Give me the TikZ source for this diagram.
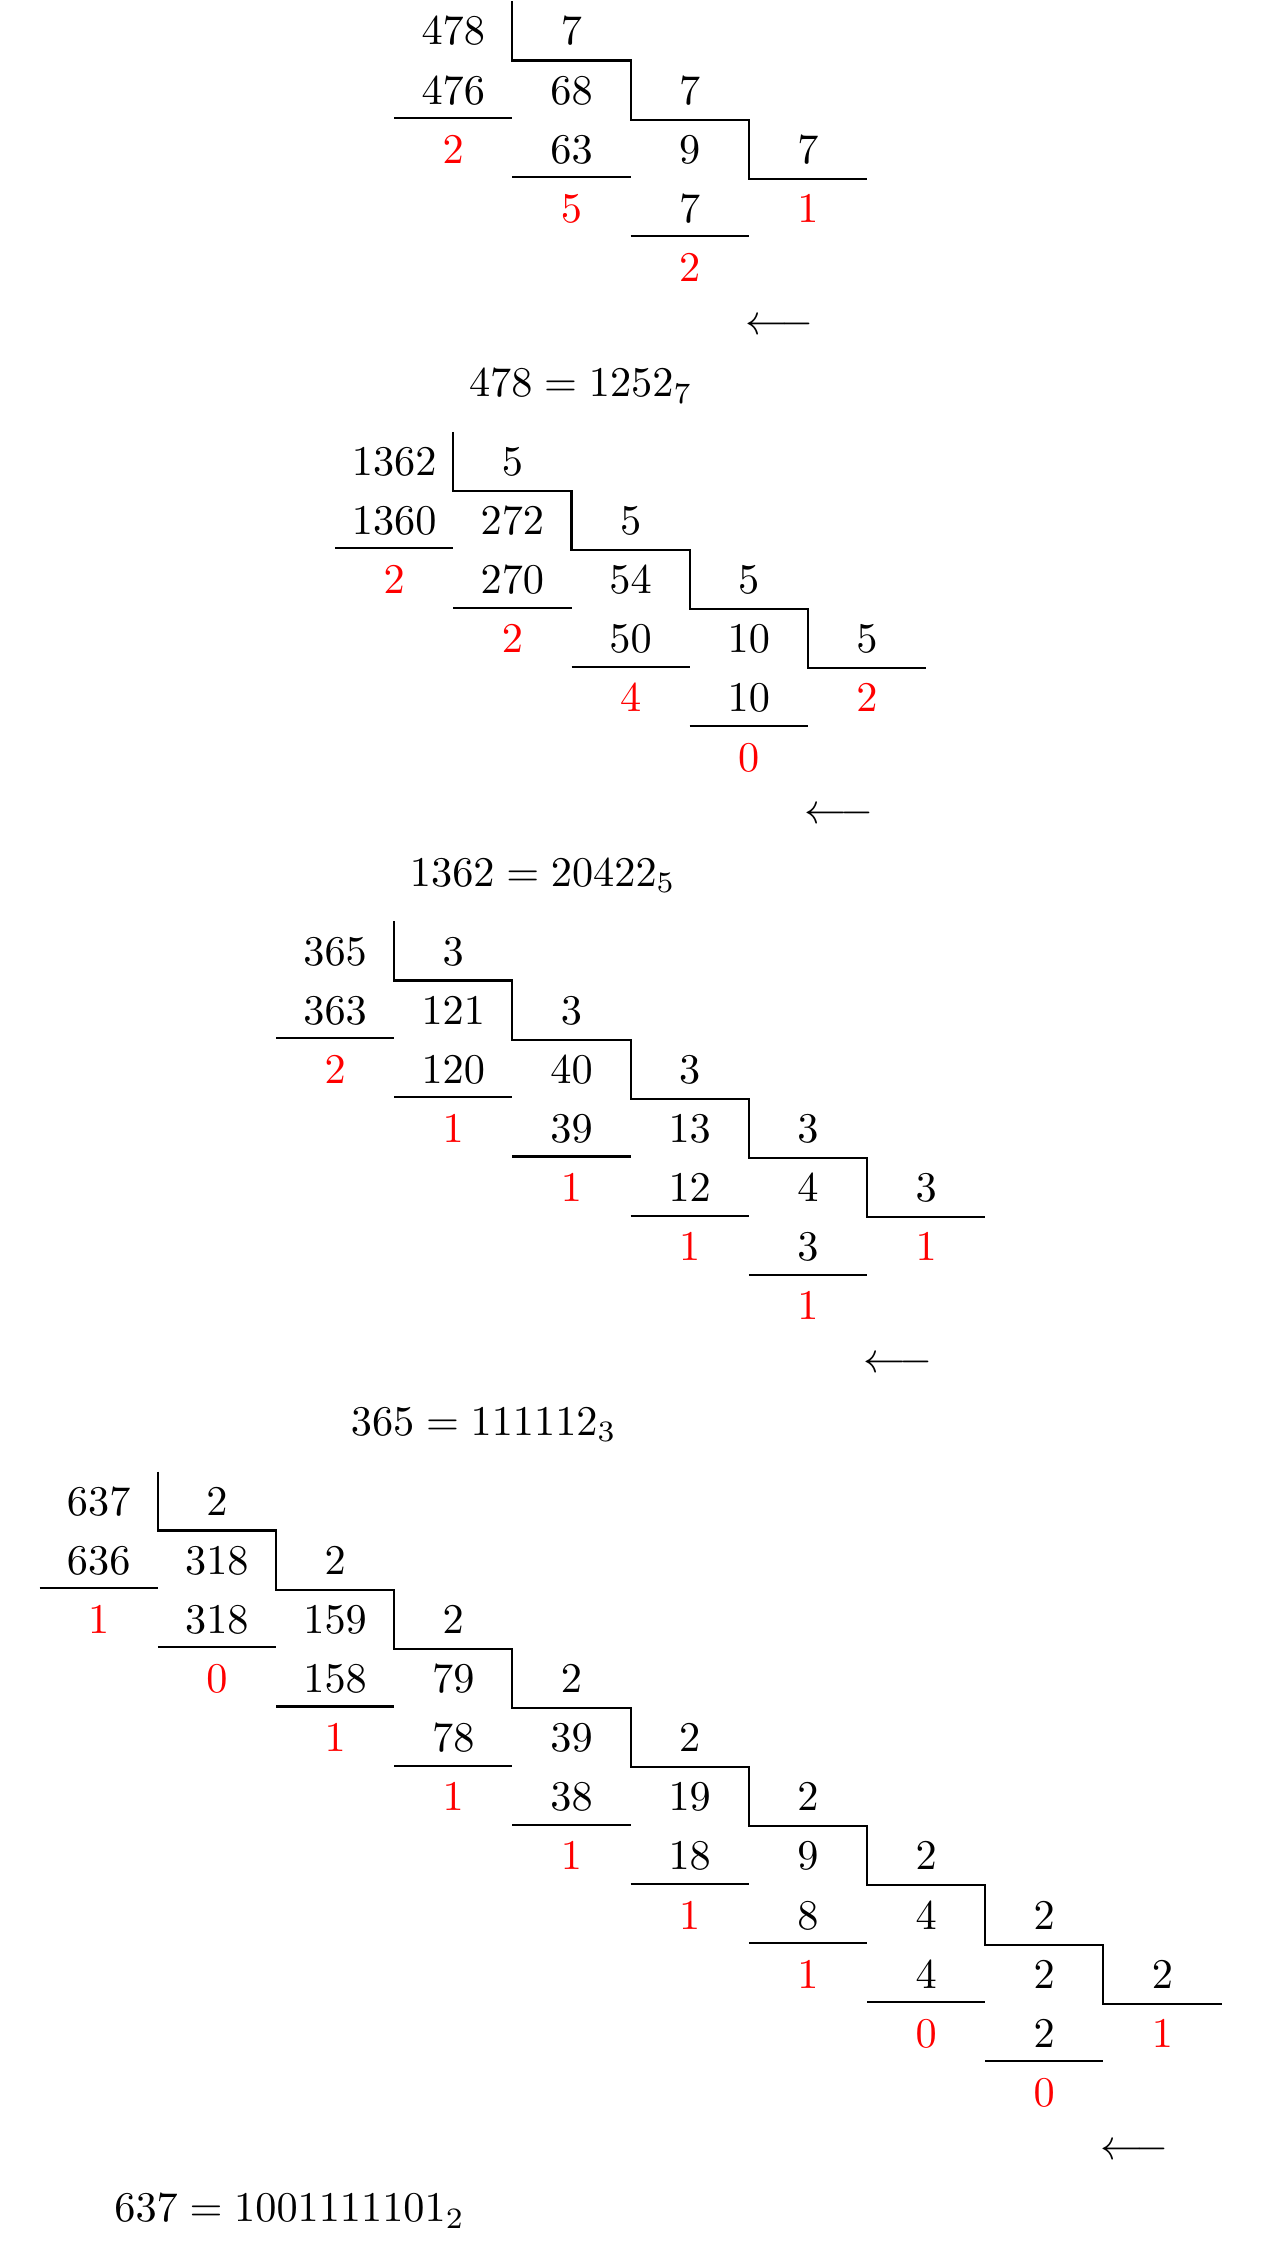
\documentclass[tikz,border=0pt]{standalone}
\def\colw{118.2}
\def\rowh{59.15}
\newcommand\divblock[7]{% #1 name, #2 top row centre, #3 columns, #4 base, #5 columns list, #6 last digit, #7 result
  \pgfmathsetmacro\blkL{630.6-#3*\colw/2}
  \pgfmathtruncatemacro\blkM{#3-1}
  \foreach \c/\q/\p/\r in {#5}{
    \node[num] (#1-q\c) at ({\blkL+(\c+0.5)*\colw},{#2+\c*\rowh+14}) {$\q$};
    \node[num] (#1-p\c) at ({\blkL+(\c+0.5)*\colw},{#2+(\c+1)*\rowh+14}) {$\p$};
    \node[rem] (#1-r\c) at ({\blkL+(\c+0.5)*\colw},{#2+(\c+2)*\rowh+14}) {$\r$};
    \draw[rulel] ({\blkL+\c*\colw},{#2+28+(\c+1)*\rowh}) -- ({\blkL+(\c+1)*\colw},{#2+28+(\c+1)*\rowh});
  }
  \foreach \c in {1,...,\blkM}{
    \node[num] (#1-d\c) at ({\blkL+(\c+0.5)*\colw},{#2+(\c-1)*\rowh+14}) {$#4$};
  }
  \node[rem] (#1-q\blkM) at ({\blkL+(\blkM+0.5)*\colw},{#2+\blkM*\rowh+14}) {$#6$};
  \draw[rulel] ({\blkL+\colw},{#2-29.5})
    \foreach \k in {1,...,\blkM}{
      -- ({\blkL+\k*\colw},{#2+29.5+(\k-1)*\rowh})
      -- ({\blkL+(\k+1)*\colw},{#2+29.5+(\k-1)*\rowh})
    };
  \node[arrowlbl] (#1-arrow) at ({\blkL+\blkM*\colw-4},{#2+(\blkM+2)*\rowh}) {$\longleftarrow$};
  \node[eqlbl] (#1-eq) at ({\blkL+74},{#2+(\blkM+3)*\rowh+11}) {$#7$};
}
\begin{document}
\begin{tikzpicture}[x=0.2364pt,y=-0.2364pt,
  num/.style={anchor=base,inner sep=0pt},
  rem/.style={num,text=red},
  rulel/.style={line width=0.5pt},
  arrowlbl/.style={anchor=west,inner sep=0pt},
  eqlbl/.style={anchor=base west,inner sep=0pt}]
\useasboundingbox (0,0) rectangle (1261,2254);
\divblock{a}{31}{4}{7}{0/478/476/2,1/68/63/5,2/9/7/2}{1}{478=1252_7}
\divblock{b}{461.3}{5}{5}{0/1362/1360/2,1/272/270/2,2/54/50/4,3/10/10/0}{2}{1362=20422_5}
\divblock{c}{951}{6}{3}{0/365/363/2,1/121/120/1,2/40/39/1,3/13/12/1,4/4/3/1}{1}{365=111112_3}
\divblock{d}{1501}{10}{2}{0/637/636/1,1/318/318/0,2/159/158/1,3/79/78/1,4/39/38/1,5/19/18/1,6/9/8/1,7/4/4/0,8/2/2/0}{1}{637=1001111101_2}
\end{tikzpicture}
\end{document}
